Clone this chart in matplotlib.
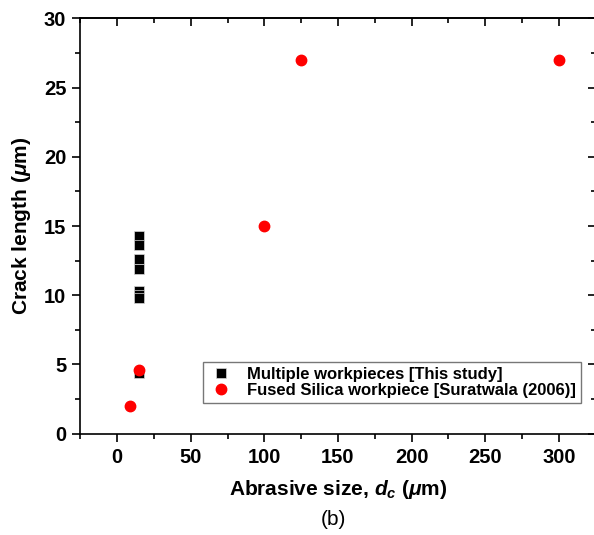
import matplotlib
matplotlib.use('Agg')
import matplotlib.pyplot as plt
from matplotlib.ticker import MultipleLocator

plt.rcParams['font.family'] = ['Liberation Sans', 'DejaVu Sans']
plt.rcParams['font.weight'] = 'bold'
plt.rcParams['mathtext.fontset'] = 'custom'
plt.rcParams['mathtext.it'] = 'Liberation Sans:italic:bold'
plt.rcParams['mathtext.rm'] = 'Liberation Sans:bold'

# this study: multiple workpieces
study_x = [15, 15, 15, 15, 15, 15, 15, 15]
study_y = [14.3, 13.6, 12.6, 11.9, 10.3, 10.0, 9.8, 4.4]

# Suratwala (2006), fused silica
sur_x = [9, 15, 100, 125, 300]
sur_y = [2.0, 4.6, 15.0, 27.0, 27.0]

fig = plt.figure(figsize=(5.94, 5.35), dpi=100)
ax = fig.add_axes([0.135, 0.1893, 0.868, 0.7764])

ax.plot(study_x, study_y, 's', color='black', markersize=6.8, linestyle='none',
        markeredgecolor='#d8d8d8', markeredgewidth=0.5,
        label='Multiple workpieces [This study]', zorder=2)
ax.plot(sur_x, sur_y, 'o', color='red', markersize=7.5, linestyle='none',
        label='Fused Silica workpiece [Suratwala (2006)]', zorder=3)

ax.set_xlim(-25, 325)
ax.set_ylim(0, 30)
ax.xaxis.set_major_locator(MultipleLocator(50))
ax.xaxis.set_minor_locator(MultipleLocator(25))
ax.yaxis.set_major_locator(MultipleLocator(5))
ax.yaxis.set_minor_locator(MultipleLocator(2.5))
ax.tick_params(which='major', direction='out', length=6, width=1.2, labelsize=14.5, pad=4)
ax.tick_params(which='minor', direction='out', length=3.5, width=1.2)
for s in ax.spines.values():
    s.set_linewidth(1.2)

# mirrored ticks on top / right pointing in
top = ax.secondary_xaxis('top')
top.xaxis.set_major_locator(MultipleLocator(50))
top.xaxis.set_minor_locator(MultipleLocator(25))
top.tick_params(which='major', direction='in', length=6, width=1.2, labeltop=False)
top.tick_params(which='minor', direction='in', length=3.5, width=1.2)
top.spines['top'].set_linewidth(1.2)
right = ax.secondary_yaxis('right')
right.yaxis.set_major_locator(MultipleLocator(5))
right.yaxis.set_minor_locator(MultipleLocator(2.5))
right.tick_params(which='major', direction='in', length=6, width=1.2, labelright=False)
right.tick_params(which='minor', direction='in', length=3.5, width=1.2)

ax.set_xlabel(r'Abrasive size, $d_c$ ($\mu$m)', fontsize=15, fontweight='bold', labelpad=8)
ax.set_ylabel(r'Crack length ($\mu$m)', fontsize=15, fontweight='bold', labelpad=8)
fig.text(0.562, 0.012, '(b)', fontsize=15, fontweight='normal', ha='center', va='bottom')

leg = ax.legend(loc='lower left', bbox_to_anchor=(0.239, 0.0732), borderaxespad=0,
                fontsize=12, frameon=True, fancybox=False, handletextpad=0.8,
                borderpad=0.3, labelspacing=0.1, handlelength=1.5)
leg.get_frame().set_edgecolor('#555555')
leg.get_frame().set_linewidth(1.0)

fig.savefig('out.png', dpi=100)
